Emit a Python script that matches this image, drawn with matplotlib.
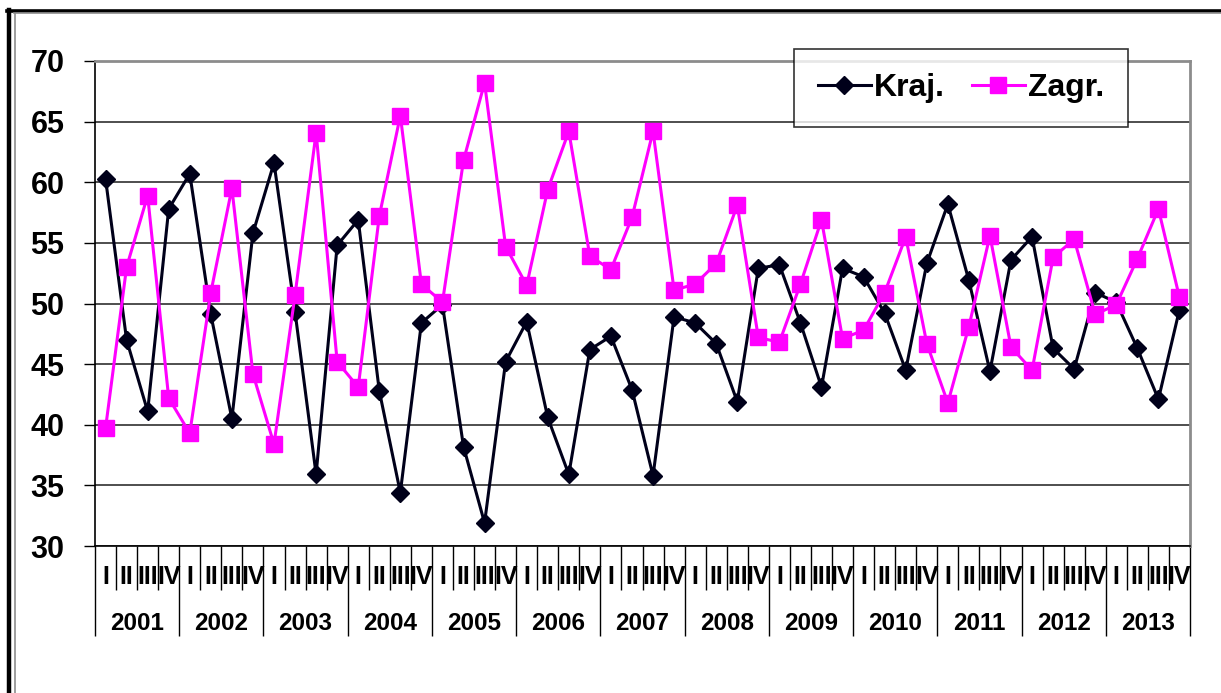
import numpy as np
import matplotlib
matplotlib.use('Agg')
from matplotlib import pyplot as plt
from matplotlib.lines import Line2D

plt.rcParams['font.family'] = ['Liberation Sans', 'DejaVu Sans']
plt.rcParams['font.weight'] = 'bold'

years = ['2001', '2002', '2003', '2004', '2005', '2006', '2007',
         '2008', '2009', '2010', '2011', '2012', '2013']
quarters = ['I', 'II', 'III', 'IV']

kraj = [60.3, 47.0, 41.1, 57.8, 60.7, 49.1, 40.5, 55.8,
        61.6, 49.3, 35.9, 54.8, 56.9, 42.8, 34.4, 48.4,
        49.9, 38.2, 31.9, 45.2, 48.5, 40.6, 35.9, 46.2,
        47.3, 42.9, 35.8, 48.9, 48.4, 46.7, 41.9, 52.9,
        53.2, 48.4, 43.1, 52.9, 52.2, 49.2, 44.5, 53.3,
        58.2, 51.9, 44.4, 53.6, 55.5, 46.3, 44.6, 50.9,
        50.1, 46.3, 42.1, 49.5]
zagr = [39.7, 53.0, 58.9, 42.2, 39.3, 50.9, 59.5, 44.2,
        38.4, 50.7, 64.1, 45.2, 43.1, 57.2, 65.5, 51.6,
        50.1, 61.8, 68.2, 54.7, 51.5, 59.4, 64.2, 53.9,
        52.8, 57.1, 64.2, 51.1, 51.6, 53.3, 58.1, 47.2,
        46.8, 51.6, 56.9, 47.1, 47.8, 50.9, 55.5, 46.7,
        41.8, 48.1, 55.6, 46.4, 44.5, 53.8, 55.3, 49.1,
        49.9, 53.7, 57.8, 50.5]

x = np.arange(len(kraj))

fig = plt.figure(figsize=(12.21, 6.93), dpi=100)
ax = fig.add_axes([95/1221, 1-546/693, (1190-95)/1221, (546-61)/693])

ax.plot(x, kraj, color='#00001a', lw=2.2, marker='D', ms=9.5, label='Kraj.', zorder=3)
ax.plot(x, zagr, color='#ff00ff', lw=2.2, marker='s', ms=11.5, label='Zagr.', zorder=3)

ax.set_xlim(-0.5, len(kraj)-0.5)
ax.set_ylim(30, 70)
ax.set_yticks(range(30, 71, 5))
ax.yaxis.grid(True, color='#303030', lw=1.2)
ax.tick_params(axis='y', labelsize=22, length=8, width=1, pad=14, direction='out')
for lab in ax.get_yticklabels():
    lab.set_fontweight('bold')

# category axis: quarter ticks (minor) and year dividers (major)
ax.set_xticks(np.arange(-0.5, len(kraj), 4))
ax.set_xticks(np.arange(-0.5, len(kraj), 1), minor=True)
ax.set_xticklabels([])
ax.tick_params(axis='x', which='major', length=65, width=1, color='black')
ax.tick_params(axis='x', which='minor', length=32, width=1, color='black')

for i in x:
    ax.annotate(quarters[i % 4], xy=(i, 0), xycoords=('data', 'axes fraction'),
                xytext=(0, -22.5), textcoords='offset points', ha='center', va='center',
                fontsize=18, fontweight='bold')
for j, yr in enumerate(years):
    ax.annotate(yr, xy=(j*4+1.5, 0), xycoords=('data', 'axes fraction'),
                xytext=(0, -55.5), textcoords='offset points', ha='center', va='center',
                fontsize=17.5, fontweight='bold')

for s in ['top', 'right']:
    ax.spines[s].set_color('#8c8c8c')
    ax.spines[s].set_linewidth(2)
for s in ['left', 'bottom']:
    ax.spines[s].set_color('black')
    ax.spines[s].set_linewidth(1.2)

leg = ax.legend(loc='upper right', bbox_to_anchor=(1033/1095, 1+12/485), ncol=2,
                borderaxespad=0, frameon=True, fancybox=False, edgecolor='black',
                handlelength=1.65, columnspacing=0.85, borderpad=0.75, handletextpad=0.1,
                prop={'weight': 'bold', 'size': 23})
leg.get_frame().set_linewidth(1.2)

# outer chart frame (left and top, double line)
fig.add_artist(Line2D([9/1221, 9/1221], [0, 1-10/693], color='black', lw=3.2))
fig.add_artist(Line2D([14.5/1221, 14.5/1221], [0, 1-13/693], color='#8c8c8c', lw=1.2))
fig.add_artist(Line2D([7/1221, 1], [1-10.5/693, 1-10.5/693], color='black', lw=2.6))
fig.add_artist(Line2D([14/1221, 1], [1-13/693, 1-13/693], color='#8c8c8c', lw=1.2))

plt.savefig('out.png', dpi=100)
